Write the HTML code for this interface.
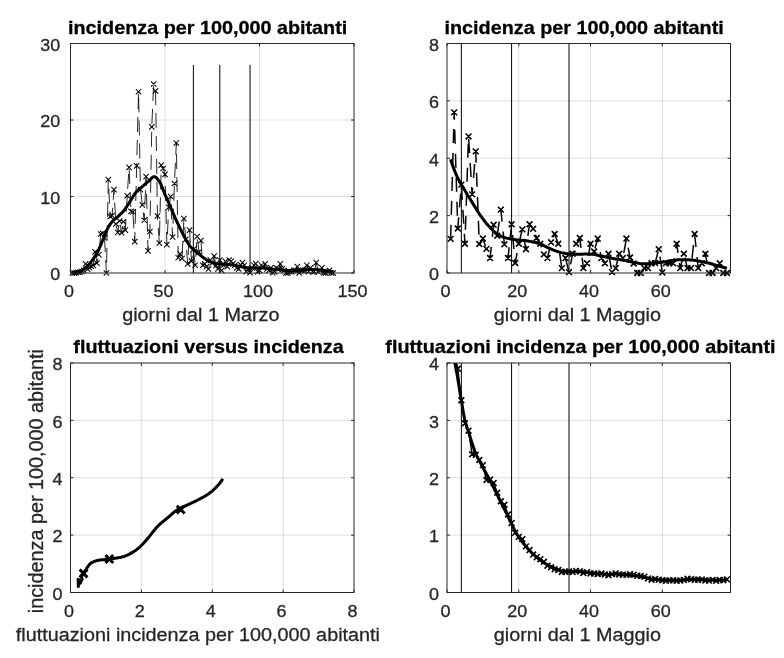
<!DOCTYPE html>
<html lang="it"><head><meta charset="utf-8"><title>incidenza per 100,000 abitanti</title>
<style>html,body{margin:0;padding:0;background:#fff}svg{display:block}</style></head>
<body>
<svg width="784" height="658" viewBox="0 0 784 658">
<rect width="784" height="658" fill="#fff"/>
<defs><clipPath id="c4"><rect x="447.00" y="363.00" width="283.50" height="229.50"/></clipPath><clipPath id="m2"><rect x="437.00" y="33.50" width="294.00" height="249.50"/></clipPath><clipPath id="m4"><rect x="437.00" y="353.00" width="294.00" height="249.50"/></clipPath></defs>
<style>text{font-family:"Liberation Sans",Arial,Helvetica,sans-serif;fill:#262626}.tk{font-size:18px;stroke:#262626;stroke-width:.3px}.lb{font-size:19.8px;stroke:#262626;stroke-width:.3px}.tt{font-size:19.8px;font-weight:bold;fill:#000;stroke:#000;stroke-width:.3px}</style>
<path d="M165.00 43.50 V273.00M259.50 43.50 V273.00" stroke="#262626" stroke-opacity="0.15" stroke-width="1" fill="none"/>
<path d="M70.50 196.50 H354.00M70.50 120.00 H354.00" stroke="#262626" stroke-opacity="0.15" stroke-width="1" fill="none"/>
<path d="M193.35 273.00 V64.92M219.81 273.00 V64.92M250.05 273.00 V64.92" stroke="#000" stroke-width="1" fill="none"/>
<path d="M72.39 273.00 L74.28 273.00 L76.17 272.62 L78.06 272.24 L79.95 272.24 L81.84 271.47 L83.73 270.32 L85.62 263.82 L87.51 269.18 L89.40 267.64 L91.29 266.12 L93.18 265.35 L95.07 251.81 L96.96 263.06 L98.85 254.64 L100.74 233.99 L102.63 233.22 L104.52 237.81 L106.41 273.00 L108.30 179.67 L110.19 216.39 L112.08 215.62 L113.97 189.62 L115.86 224.04 L117.75 232.45 L119.64 220.98 L121.53 232.76 L123.42 221.75 L125.31 230.16 L127.20 195.74 L129.09 167.43 L130.98 211.42 L132.87 211.80 L134.76 241.63 L136.65 165.90 L138.54 91.70 L140.43 189.62 L142.32 204.91 L144.21 220.22 L146.10 176.61 L147.99 250.81 L149.88 231.69 L151.77 126.88 L153.66 84.04 L155.55 90.93 L157.44 216.01 L159.33 243.16 L161.22 165.13 L163.11 168.50 L165.00 174.31 L166.89 244.69 L168.78 207.21 L170.67 196.50 L172.56 237.04 L174.45 183.50 L176.34 142.95 L178.23 257.70 L180.12 253.88 L182.01 258.46 L183.90 218.69 L185.79 239.34 L187.68 263.90 L189.57 230.16 L191.46 261.14 L193.35 249.44 L195.24 265.20 L197.13 236.59 L199.02 252.04 L200.91 240.56 L202.80 265.27 L204.69 263.82 L206.58 266.57 L208.47 269.02 L210.36 260.15 L212.25 263.06 L214.14 256.09 L216.03 265.35 L217.92 269.02 L219.81 260.00 L221.70 270.32 L223.59 265.20 L225.48 261.37 L227.37 266.65 L229.26 260.00 L231.15 261.22 L233.04 263.67 L234.93 265.20 L236.82 268.03 L238.71 269.02 L240.60 264.81 L242.49 262.60 L244.38 265.20 L246.27 271.70 L248.16 269.02 L250.05 272.77 L251.94 267.87 L253.83 265.20 L255.72 263.67 L257.61 271.70 L259.50 270.40 L261.39 265.20 L263.28 267.26 L265.17 263.82 L267.06 269.02 L268.95 270.40 L270.84 267.87 L272.73 272.77 L274.62 271.70 L276.51 267.87 L278.40 269.02 L280.29 263.82 L282.18 268.87 L284.07 270.48 L285.96 273.00 L287.85 273.00 L289.74 271.70 L291.63 271.70 L293.52 270.40 L295.41 270.32 L297.30 266.65 L299.19 272.85 L301.08 270.40 L302.97 270.40 L304.86 270.40 L306.75 265.20 L308.64 271.70 L310.53 267.87 L312.42 271.70 L314.31 271.70 L316.20 262.60 L318.09 271.70 L319.98 270.40 L321.87 267.87 L323.76 273.00 L325.65 273.00 L327.54 271.70 L329.43 270.40 L331.32 273.00 L333.21 273.00" stroke="#000" stroke-width="0.85" fill="none" stroke-dasharray="15 8" />
<path d="M69.69 270.30 l5.40 5.40 M69.69 275.70 l5.40 -5.40M71.58 270.30 l5.40 5.40 M71.58 275.70 l5.40 -5.40M73.47 269.92 l5.40 5.40 M73.47 275.32 l5.40 -5.40M75.36 269.54 l5.40 5.40 M75.36 274.94 l5.40 -5.40M77.25 269.54 l5.40 5.40 M77.25 274.94 l5.40 -5.40M79.14 268.77 l5.40 5.40 M79.14 274.17 l5.40 -5.40M81.03 267.62 l5.40 5.40 M81.03 273.02 l5.40 -5.40M82.92 261.12 l5.40 5.40 M82.92 266.52 l5.40 -5.40M84.81 266.48 l5.40 5.40 M84.81 271.88 l5.40 -5.40M86.70 264.94 l5.40 5.40 M86.70 270.34 l5.40 -5.40M88.59 263.42 l5.40 5.40 M88.59 268.81 l5.40 -5.40M90.48 262.65 l5.40 5.40 M90.48 268.05 l5.40 -5.40M92.37 249.11 l5.40 5.40 M92.37 254.51 l5.40 -5.40M94.26 260.36 l5.40 5.40 M94.26 265.75 l5.40 -5.40M96.15 251.94 l5.40 5.40 M96.15 257.34 l5.40 -5.40M98.04 231.29 l5.40 5.40 M98.04 236.69 l5.40 -5.40M99.93 230.52 l5.40 5.40 M99.93 235.92 l5.40 -5.40M101.82 235.11 l5.40 5.40 M101.82 240.51 l5.40 -5.40M103.71 270.30 l5.40 5.40 M103.71 275.70 l5.40 -5.40M105.60 176.97 l5.40 5.40 M105.60 182.37 l5.40 -5.40M107.49 213.69 l5.40 5.40 M107.49 219.09 l5.40 -5.40M109.38 212.93 l5.40 5.40 M109.38 218.32 l5.40 -5.40M111.27 186.92 l5.40 5.40 M111.27 192.31 l5.40 -5.40M113.16 221.34 l5.40 5.40 M113.16 226.74 l5.40 -5.40M115.05 229.75 l5.40 5.40 M115.05 235.15 l5.40 -5.40M116.94 218.28 l5.40 5.40 M116.94 223.68 l5.40 -5.40M118.83 230.06 l5.40 5.40 M118.83 235.46 l5.40 -5.40M120.72 219.05 l5.40 5.40 M120.72 224.44 l5.40 -5.40M122.61 227.46 l5.40 5.40 M122.61 232.86 l5.40 -5.40M124.50 193.04 l5.40 5.40 M124.50 198.44 l5.40 -5.40M126.39 164.73 l5.40 5.40 M126.39 170.13 l5.40 -5.40M128.28 208.72 l5.40 5.40 M128.28 214.12 l5.40 -5.40M130.17 209.10 l5.40 5.40 M130.17 214.50 l5.40 -5.40M132.06 238.94 l5.40 5.40 M132.06 244.33 l5.40 -5.40M133.95 163.20 l5.40 5.40 M133.95 168.60 l5.40 -5.40M135.84 89.00 l5.40 5.40 M135.84 94.40 l5.40 -5.40M137.73 186.92 l5.40 5.40 M137.73 192.31 l5.40 -5.40M139.62 202.22 l5.40 5.40 M139.62 207.61 l5.40 -5.40M141.51 217.52 l5.40 5.40 M141.51 222.91 l5.40 -5.40M143.40 173.91 l5.40 5.40 M143.40 179.31 l5.40 -5.40M145.29 248.12 l5.40 5.40 M145.29 253.51 l5.40 -5.40M147.18 228.99 l5.40 5.40 M147.18 234.39 l5.40 -5.40M149.07 124.18 l5.40 5.40 M149.07 129.58 l5.40 -5.40M150.96 81.34 l5.40 5.40 M150.96 86.74 l5.40 -5.40M152.85 88.23 l5.40 5.40 M152.85 93.63 l5.40 -5.40M154.74 213.31 l5.40 5.40 M154.74 218.71 l5.40 -5.40M156.63 240.47 l5.40 5.40 M156.63 245.86 l5.40 -5.40M158.52 162.44 l5.40 5.40 M158.52 167.83 l5.40 -5.40M160.41 165.80 l5.40 5.40 M160.41 171.20 l5.40 -5.40M162.30 171.62 l5.40 5.40 M162.30 177.01 l5.40 -5.40M164.19 242.00 l5.40 5.40 M164.19 247.39 l5.40 -5.40M166.08 204.51 l5.40 5.40 M166.08 209.91 l5.40 -5.40M167.97 193.80 l5.40 5.40 M167.97 199.20 l5.40 -5.40M169.86 234.34 l5.40 5.40 M169.86 239.74 l5.40 -5.40M171.75 180.80 l5.40 5.40 M171.75 186.19 l5.40 -5.40M173.64 140.25 l5.40 5.40 M173.64 145.65 l5.40 -5.40M175.53 255.00 l5.40 5.40 M175.53 260.40 l5.40 -5.40M177.42 251.18 l5.40 5.40 M177.42 256.57 l5.40 -5.40M179.31 255.76 l5.40 5.40 M179.31 261.16 l5.40 -5.40M181.20 215.99 l5.40 5.40 M181.20 221.38 l5.40 -5.40M183.09 236.64 l5.40 5.40 M183.09 242.04 l5.40 -5.40M184.98 261.20 l5.40 5.40 M184.98 266.60 l5.40 -5.40M186.87 227.46 l5.40 5.40 M186.87 232.86 l5.40 -5.40M188.76 258.44 l5.40 5.40 M188.76 263.84 l5.40 -5.40M190.65 246.74 l5.40 5.40 M190.65 252.14 l5.40 -5.40M192.54 262.50 l5.40 5.40 M192.54 267.90 l5.40 -5.40M194.43 233.89 l5.40 5.40 M194.43 239.29 l5.40 -5.40M196.32 249.34 l5.40 5.40 M196.32 254.74 l5.40 -5.40M198.21 237.86 l5.40 5.40 M198.21 243.26 l5.40 -5.40M200.10 262.57 l5.40 5.40 M200.10 267.97 l5.40 -5.40M201.99 261.12 l5.40 5.40 M201.99 266.52 l5.40 -5.40M203.88 263.87 l5.40 5.40 M203.88 269.27 l5.40 -5.40M205.77 266.32 l5.40 5.40 M205.77 271.72 l5.40 -5.40M207.66 257.45 l5.40 5.40 M207.66 262.85 l5.40 -5.40M209.55 260.36 l5.40 5.40 M209.55 265.75 l5.40 -5.40M211.44 253.39 l5.40 5.40 M211.44 258.79 l5.40 -5.40M213.33 262.65 l5.40 5.40 M213.33 268.05 l5.40 -5.40M215.22 266.32 l5.40 5.40 M215.22 271.72 l5.40 -5.40M217.11 257.30 l5.40 5.40 M217.11 262.69 l5.40 -5.40M219.00 267.62 l5.40 5.40 M219.00 273.02 l5.40 -5.40M220.89 262.50 l5.40 5.40 M220.89 267.90 l5.40 -5.40M222.78 258.67 l5.40 5.40 M222.78 264.07 l5.40 -5.40M224.67 263.95 l5.40 5.40 M224.67 269.35 l5.40 -5.40M226.56 257.30 l5.40 5.40 M226.56 262.69 l5.40 -5.40M228.45 258.52 l5.40 5.40 M228.45 263.92 l5.40 -5.40M230.34 260.97 l5.40 5.40 M230.34 266.37 l5.40 -5.40M232.23 262.50 l5.40 5.40 M232.23 267.90 l5.40 -5.40M234.12 265.33 l5.40 5.40 M234.12 270.73 l5.40 -5.40M236.01 266.32 l5.40 5.40 M236.01 271.72 l5.40 -5.40M237.90 262.11 l5.40 5.40 M237.90 267.51 l5.40 -5.40M239.79 259.90 l5.40 5.40 M239.79 265.30 l5.40 -5.40M241.68 262.50 l5.40 5.40 M241.68 267.90 l5.40 -5.40M243.57 269.00 l5.40 5.40 M243.57 274.40 l5.40 -5.40M245.46 266.32 l5.40 5.40 M245.46 271.72 l5.40 -5.40M247.35 270.07 l5.40 5.40 M247.35 275.47 l5.40 -5.40M249.24 265.17 l5.40 5.40 M249.24 270.57 l5.40 -5.40M251.13 262.50 l5.40 5.40 M251.13 267.90 l5.40 -5.40M253.02 260.97 l5.40 5.40 M253.02 266.37 l5.40 -5.40M254.91 269.00 l5.40 5.40 M254.91 274.40 l5.40 -5.40M256.80 267.70 l5.40 5.40 M256.80 273.10 l5.40 -5.40M258.69 262.50 l5.40 5.40 M258.69 267.90 l5.40 -5.40M260.58 264.56 l5.40 5.40 M260.58 269.96 l5.40 -5.40M262.47 261.12 l5.40 5.40 M262.47 266.52 l5.40 -5.40M264.36 266.32 l5.40 5.40 M264.36 271.72 l5.40 -5.40M266.25 267.70 l5.40 5.40 M266.25 273.10 l5.40 -5.40M268.14 265.17 l5.40 5.40 M268.14 270.57 l5.40 -5.40M270.03 270.07 l5.40 5.40 M270.03 275.47 l5.40 -5.40M271.92 269.00 l5.40 5.40 M271.92 274.40 l5.40 -5.40M273.81 265.17 l5.40 5.40 M273.81 270.57 l5.40 -5.40M275.70 266.32 l5.40 5.40 M275.70 271.72 l5.40 -5.40M277.59 261.12 l5.40 5.40 M277.59 266.52 l5.40 -5.40M279.48 266.17 l5.40 5.40 M279.48 271.57 l5.40 -5.40M281.37 267.78 l5.40 5.40 M281.37 273.18 l5.40 -5.40M283.26 270.30 l5.40 5.40 M283.26 275.70 l5.40 -5.40M285.15 270.30 l5.40 5.40 M285.15 275.70 l5.40 -5.40M287.04 269.00 l5.40 5.40 M287.04 274.40 l5.40 -5.40M288.93 269.00 l5.40 5.40 M288.93 274.40 l5.40 -5.40M290.82 267.70 l5.40 5.40 M290.82 273.10 l5.40 -5.40M292.71 267.62 l5.40 5.40 M292.71 273.02 l5.40 -5.40M294.60 263.95 l5.40 5.40 M294.60 269.35 l5.40 -5.40M296.49 270.15 l5.40 5.40 M296.49 275.55 l5.40 -5.40M298.38 267.70 l5.40 5.40 M298.38 273.10 l5.40 -5.40M300.27 267.70 l5.40 5.40 M300.27 273.10 l5.40 -5.40M302.16 267.70 l5.40 5.40 M302.16 273.10 l5.40 -5.40M304.05 262.50 l5.40 5.40 M304.05 267.90 l5.40 -5.40M305.94 269.00 l5.40 5.40 M305.94 274.40 l5.40 -5.40M307.83 265.17 l5.40 5.40 M307.83 270.57 l5.40 -5.40M309.72 269.00 l5.40 5.40 M309.72 274.40 l5.40 -5.40M311.61 269.00 l5.40 5.40 M311.61 274.40 l5.40 -5.40M313.50 259.90 l5.40 5.40 M313.50 265.30 l5.40 -5.40M315.39 269.00 l5.40 5.40 M315.39 274.40 l5.40 -5.40M317.28 267.70 l5.40 5.40 M317.28 273.10 l5.40 -5.40M319.17 265.17 l5.40 5.40 M319.17 270.57 l5.40 -5.40M321.06 270.30 l5.40 5.40 M321.06 275.70 l5.40 -5.40M322.95 270.30 l5.40 5.40 M322.95 275.70 l5.40 -5.40M324.84 269.00 l5.40 5.40 M324.84 274.40 l5.40 -5.40M326.73 267.70 l5.40 5.40 M326.73 273.10 l5.40 -5.40M328.62 270.30 l5.40 5.40 M328.62 275.70 l5.40 -5.40M330.51 270.30 l5.40 5.40 M330.51 275.70 l5.40 -5.40" stroke="#000" stroke-width="1.05" fill="none"/>
<path d="M72.39 272.85 L72.91 272.79 L73.44 272.72 L73.96 272.64 L74.48 272.55 L75.00 272.46 L75.53 272.36 L76.05 272.26 L76.57 272.15 L77.09 272.04 L77.62 271.92 L78.14 271.78 L78.66 271.64 L79.18 271.49 L79.71 271.31 L80.23 271.12 L80.75 270.91 L81.28 270.66 L81.80 270.37 L82.32 270.05 L82.84 269.71 L83.37 269.34 L83.89 268.94 L84.41 268.53 L84.93 268.10 L85.46 267.67 L85.98 267.22 L86.50 266.77 L87.03 266.30 L87.55 265.79 L88.07 265.26 L88.59 264.71 L89.12 264.13 L89.64 263.52 L90.16 262.90 L90.68 262.26 L91.21 261.60 L91.73 260.92 L92.25 260.23 L92.77 259.52 L93.30 258.78 L93.82 258.02 L94.34 257.24 L94.87 256.42 L95.39 255.58 L95.91 254.71 L96.43 253.82 L96.96 252.89 L97.48 251.94 L98.00 250.96 L98.52 249.95 L99.05 248.87 L99.57 247.71 L100.09 246.50 L100.62 245.23 L101.14 243.94 L101.66 242.64 L102.18 241.34 L102.71 240.06 L103.23 238.81 L103.75 237.53 L104.27 236.22 L104.80 234.90 L105.32 233.59 L105.84 232.31 L106.36 231.08 L106.89 229.93 L107.41 228.88 L107.93 227.92 L108.46 227.00 L108.98 226.11 L109.50 225.27 L110.02 224.46 L110.55 223.70 L111.07 222.99 L111.59 222.32 L112.11 221.71 L112.64 221.14 L113.16 220.62 L113.68 220.13 L114.20 219.67 L114.73 219.23 L115.25 218.81 L115.77 218.39 L116.30 217.97 L116.82 217.54 L117.34 217.10 L117.86 216.64 L118.39 216.15 L118.91 215.66 L119.43 215.17 L119.95 214.68 L120.48 214.19 L121.00 213.68 L121.52 213.17 L122.05 212.64 L122.57 212.09 L123.09 211.53 L123.61 210.94 L124.14 210.32 L124.66 209.66 L125.18 208.96 L125.70 208.21 L126.23 207.43 L126.75 206.62 L127.27 205.79 L127.79 204.95 L128.32 204.11 L128.84 203.26 L129.36 202.43 L129.89 201.61 L130.41 200.81 L130.93 199.99 L131.45 199.14 L131.98 198.29 L132.50 197.42 L133.02 196.57 L133.54 195.72 L134.07 194.90 L134.59 194.11 L135.11 193.37 L135.63 192.67 L136.16 192.04 L136.68 191.47 L137.20 190.93 L137.73 190.42 L138.25 189.95 L138.77 189.49 L139.29 189.05 L139.82 188.62 L140.34 188.20 L140.86 187.77 L141.38 187.35 L141.91 186.91 L142.43 186.46 L142.95 186.00 L143.48 185.55 L144.00 185.09 L144.52 184.64 L145.04 184.19 L145.57 183.74 L146.09 183.29 L146.61 182.84 L147.13 182.40 L147.66 181.95 L148.18 181.52 L148.70 181.08 L149.22 180.59 L149.75 180.06 L150.27 179.50 L150.79 178.94 L151.32 178.39 L151.84 177.88 L152.36 177.43 L152.88 177.06 L153.41 176.79 L153.93 176.63 L154.45 176.63 L154.97 176.77 L155.50 177.05 L156.02 177.45 L156.54 177.95 L157.07 178.53 L157.59 179.17 L158.11 179.84 L158.63 180.53 L159.16 181.22 L159.68 181.99 L160.20 182.91 L160.72 183.97 L161.25 185.13 L161.77 186.37 L162.29 187.67 L162.81 189.01 L163.34 190.37 L163.86 191.72 L164.38 193.04 L164.91 194.31 L165.43 195.51 L165.95 196.70 L166.47 197.89 L167.00 199.08 L167.52 200.27 L168.04 201.46 L168.56 202.65 L169.09 203.84 L169.61 205.03 L170.13 206.22 L170.65 207.41 L171.18 208.60 L171.70 209.80 L172.22 211.00 L172.75 212.21 L173.27 213.43 L173.79 214.64 L174.31 215.85 L174.84 217.05 L175.36 218.24 L175.88 219.43 L176.40 220.59 L176.93 221.74 L177.45 222.86 L177.97 223.97 L178.50 225.07 L179.02 226.16 L179.54 227.24 L180.06 228.30 L180.59 229.36 L181.11 230.40 L181.63 231.44 L182.15 232.47 L182.68 233.48 L183.20 234.49 L183.72 235.50 L184.24 236.51 L184.77 237.52 L185.29 238.53 L185.81 239.51 L186.34 240.46 L186.86 241.37 L187.38 242.24 L187.90 243.05 L188.43 243.83 L188.95 244.58 L189.47 245.30 L189.99 245.98 L190.52 246.62 L191.04 247.22 L191.56 247.78 L192.08 248.30 L192.61 248.78 L193.13 249.24 L193.65 249.69 L194.18 250.13 L194.70 250.57 L195.22 251.02 L195.74 251.46 L196.27 251.90 L196.79 252.33 L197.31 252.76 L197.83 253.19 L198.36 253.61 L198.88 254.04 L199.40 254.46 L199.93 254.89 L200.45 255.33 L200.97 255.76 L201.49 256.19 L202.02 256.61 L202.54 257.02 L203.06 257.41 L203.58 257.79 L204.11 258.17 L204.63 258.54 L205.15 258.89 L205.67 259.24 L206.20 259.58 L206.72 259.90 L207.24 260.20 L207.77 260.50 L208.29 260.79 L208.81 261.07 L209.33 261.34 L209.86 261.60 L210.38 261.83 L210.90 262.05 L211.42 262.25 L211.95 262.45 L212.47 262.63 L212.99 262.81 L213.52 262.97 L214.04 263.12 L214.56 263.25 L215.08 263.36 L215.61 263.45 L216.13 263.54 L216.65 263.62 L217.17 263.69 L217.70 263.75 L218.22 263.81 L218.74 263.87 L219.26 263.92 L219.79 263.97 L220.31 264.01 L220.83 264.06 L221.36 264.10 L221.88 264.13 L222.40 264.17 L222.92 264.20 L223.45 264.22 L223.97 264.24 L224.49 264.26 L225.01 264.28 L225.54 264.29 L226.06 264.31 L226.58 264.33 L227.10 264.36 L227.63 264.40 L228.15 264.44 L228.67 264.48 L229.20 264.54 L229.72 264.59 L230.24 264.65 L230.76 264.70 L231.29 264.76 L231.81 264.82 L232.33 264.88 L232.85 264.94 L233.38 265.01 L233.90 265.08 L234.42 265.16 L234.95 265.25 L235.47 265.36 L235.99 265.49 L236.51 265.62 L237.04 265.77 L237.56 265.91 L238.08 266.05 L238.60 266.18 L239.13 266.30 L239.65 266.42 L240.17 266.53 L240.69 266.65 L241.22 266.76 L241.74 266.86 L242.26 266.96 L242.79 267.06 L243.31 267.15 L243.83 267.24 L244.35 267.33 L244.88 267.41 L245.40 267.49 L245.92 267.56 L246.44 267.62 L246.97 267.68 L247.49 267.73 L248.01 267.78 L248.53 267.83 L249.06 267.87 L249.58 267.90 L250.10 267.93 L250.63 267.95 L251.15 267.97 L251.67 267.98 L252.19 268.00 L252.72 268.01 L253.24 268.02 L253.76 268.02 L254.28 268.03 L254.81 268.03 L255.33 268.02 L255.85 268.01 L256.38 267.99 L256.90 267.98 L257.42 267.97 L257.94 267.96 L258.47 267.95 L258.99 267.95 L259.51 267.96 L260.03 267.96 L260.56 267.97 L261.08 267.99 L261.60 268.00 L262.12 268.01 L262.65 268.03 L263.17 268.06 L263.69 268.10 L264.22 268.15 L264.74 268.21 L265.26 268.27 L265.78 268.33 L266.31 268.39 L266.83 268.45 L267.35 268.51 L267.87 268.57 L268.40 268.63 L268.92 268.69 L269.44 268.76 L269.97 268.82 L270.49 268.87 L271.01 268.93 L271.53 268.98 L272.06 269.03 L272.58 269.08 L273.10 269.13 L273.62 269.17 L274.15 269.22 L274.67 269.26 L275.19 269.30 L275.71 269.34 L276.24 269.38 L276.76 269.42 L277.28 269.45 L277.81 269.50 L278.33 269.54 L278.85 269.59 L279.37 269.64 L279.90 269.70 L280.42 269.77 L280.94 269.83 L281.46 269.89 L281.99 269.96 L282.51 270.01 L283.03 270.06 L283.55 270.11 L284.08 270.16 L284.60 270.20 L285.12 270.25 L285.65 270.29 L286.17 270.34 L286.69 270.40 L287.21 270.46 L287.74 270.51 L288.26 270.54 L288.78 270.55 L289.30 270.55 L289.83 270.54 L290.35 270.53 L290.87 270.52 L291.40 270.51 L291.92 270.49 L292.44 270.48 L292.96 270.46 L293.49 270.44 L294.01 270.41 L294.53 270.38 L295.05 270.34 L295.58 270.31 L296.10 270.27 L296.62 270.24 L297.14 270.21 L297.67 270.18 L298.19 270.16 L298.71 270.13 L299.24 270.10 L299.76 270.07 L300.28 270.03 L300.80 269.99 L301.33 269.95 L301.85 269.89 L302.37 269.83 L302.89 269.77 L303.42 269.72 L303.94 269.67 L304.46 269.64 L304.98 269.61 L305.51 269.58 L306.03 269.55 L306.55 269.53 L307.08 269.51 L307.60 269.49 L308.12 269.48 L308.64 269.48 L309.17 269.48 L309.69 269.48 L310.21 269.48 L310.73 269.48 L311.26 269.48 L311.78 269.48 L312.30 269.48 L312.83 269.48 L313.35 269.49 L313.87 269.51 L314.39 269.53 L314.92 269.55 L315.44 269.58 L315.96 269.61 L316.48 269.64 L317.01 269.67 L317.53 269.72 L318.05 269.77 L318.57 269.82 L319.10 269.88 L319.62 269.94 L320.14 269.99 L320.67 270.05 L321.19 270.10 L321.71 270.16 L322.23 270.21 L322.76 270.27 L323.28 270.33 L323.80 270.39 L324.32 270.45 L324.85 270.52 L325.37 270.60 L325.89 270.68 L326.42 270.76 L326.94 270.85 L327.46 270.93 L327.98 271.01 L328.51 271.09 L329.03 271.17 L329.55 271.24 L330.07 271.31 L330.60 271.38 L331.12 271.45 L331.64 271.52 L332.16 271.59 L332.69 271.65 L333.21 271.71" stroke="#000" stroke-width="3" fill="none" stroke-linejoin="round"/>
<path d="M70.50 273.00 v-2.90 M70.50 43.50 v2.90M165.00 273.00 v-2.90 M165.00 43.50 v2.90M259.50 273.00 v-2.90 M259.50 43.50 v2.90M354.00 273.00 v-2.90 M354.00 43.50 v2.90M70.50 273.00 h2.90 M354.00 273.00 h-2.90M70.50 196.50 h2.90 M354.00 196.50 h-2.90M70.50 120.00 h2.90 M354.00 120.00 h-2.90M70.50 43.50 h2.90 M354.00 43.50 h-2.90" stroke="#262626" stroke-width="1" fill="none"/><rect x="70.50" y="43.50" width="283.50" height="229.50" fill="none" stroke="#262626" stroke-width="1"/>
<text transform="translate(69.00 297.00) scale(1 0.940)" class="tk" text-anchor="middle">0</text><text transform="translate(163.50 297.00) scale(1 0.940)" class="tk" text-anchor="middle">50</text><text transform="translate(258.00 297.00) scale(1 0.940)" class="tk" text-anchor="middle">100</text><text transform="translate(352.50 297.00) scale(1 0.940)" class="tk" text-anchor="middle">150</text><text transform="translate(60.20 280.30) scale(1 0.940)" class="tk" text-anchor="end">0</text><text transform="translate(60.20 203.80) scale(1 0.940)" class="tk" text-anchor="end">10</text><text transform="translate(60.20 127.30) scale(1 0.940)" class="tk" text-anchor="end">20</text><text transform="translate(60.20 50.80) scale(1 0.940)" class="tk" text-anchor="end">30</text>
<text transform="translate(68.00 33.70) scale(1 0.960)" class="tt">incidenza per 100,000 abitanti</text>
<text transform="translate(122.20 321.30) scale(1 0.940)" class="lb">giorni dal 1 Marzo</text>
<path d="M518.77 43.50 V273.00M590.54 43.50 V273.00M662.32 43.50 V273.00" stroke="#262626" stroke-opacity="0.15" stroke-width="1" fill="none"/>
<path d="M447.00 215.62 H730.50M447.00 158.25 H730.50M447.00 100.88 H730.50" stroke="#262626" stroke-opacity="0.15" stroke-width="1" fill="none"/>
<path d="M461.35 273.00 V43.50M511.59 273.00 V43.50M569.01 273.00 V43.50" stroke="#000" stroke-width="1" fill="none"/>
<g clip-path="url(#m2)">
<path d="M450.59 238.86 L454.18 112.35 L457.77 228.53 L461.35 184.64 L464.94 243.74 L468.53 136.45 L472.12 194.40 L475.71 151.37 L479.30 244.03 L482.89 238.57 L486.47 248.90 L490.06 258.08 L493.65 224.81 L497.24 235.71 L500.83 209.60 L504.42 244.31 L508.01 258.08 L511.59 224.23 L515.18 262.96 L518.77 243.74 L522.36 229.39 L525.95 249.19 L529.54 224.23 L533.13 228.82 L536.72 238.00 L540.30 243.74 L543.89 254.35 L547.48 258.08 L551.07 242.30 L554.66 233.99 L558.25 243.74 L561.84 268.12 L565.42 258.08 L569.01 272.14 L572.60 253.78 L576.19 243.74 L579.78 238.00 L583.37 268.12 L586.96 263.25 L590.54 243.74 L594.13 251.48 L597.72 238.57 L601.31 258.08 L604.90 263.25 L608.49 253.78 L612.08 272.14 L615.66 268.12 L619.25 253.78 L622.84 258.08 L626.43 238.57 L630.02 257.51 L633.61 263.53 L637.20 273.00 L640.78 273.00 L644.37 268.12 L647.96 268.12 L651.55 263.25 L655.14 262.96 L658.73 249.19 L662.32 272.43 L665.91 263.25 L669.49 263.25 L673.08 263.25 L676.67 243.74 L680.26 268.12 L683.85 253.78 L687.44 268.12 L691.03 268.12 L694.61 233.99 L698.20 268.12 L701.79 263.25 L705.38 253.78 L708.97 273.00 L712.56 273.00 L716.15 268.12 L719.73 263.25 L723.32 273.00 L726.91 273.00" stroke="#000" stroke-width="1.5" fill="none" stroke-dasharray="14 10"/>
<path d="M447.69 235.96 l5.80 5.80 M447.69 241.76 l5.80 -5.80M451.28 109.45 l5.80 5.80 M451.28 115.25 l5.80 -5.80M454.87 225.63 l5.80 5.80 M454.87 231.43 l5.80 -5.80M458.45 181.74 l5.80 5.80 M458.45 187.54 l5.80 -5.80M462.04 240.84 l5.80 5.80 M462.04 246.64 l5.80 -5.80M465.63 133.55 l5.80 5.80 M465.63 139.35 l5.80 -5.80M469.22 191.50 l5.80 5.80 M469.22 197.30 l5.80 -5.80M472.81 148.47 l5.80 5.80 M472.81 154.27 l5.80 -5.80M476.40 241.13 l5.80 5.80 M476.40 246.93 l5.80 -5.80M479.99 235.67 l5.80 5.80 M479.99 241.47 l5.80 -5.80M483.57 246.00 l5.80 5.80 M483.57 251.80 l5.80 -5.80M487.16 255.18 l5.80 5.80 M487.16 260.98 l5.80 -5.80M490.75 221.91 l5.80 5.80 M490.75 227.71 l5.80 -5.80M494.34 232.81 l5.80 5.80 M494.34 238.61 l5.80 -5.80M497.93 206.70 l5.80 5.80 M497.93 212.50 l5.80 -5.80M501.52 241.41 l5.80 5.80 M501.52 247.21 l5.80 -5.80M505.11 255.18 l5.80 5.80 M505.11 260.98 l5.80 -5.80M508.69 221.33 l5.80 5.80 M508.69 227.13 l5.80 -5.80M512.28 260.06 l5.80 5.80 M512.28 265.86 l5.80 -5.80M515.87 240.84 l5.80 5.80 M515.87 246.64 l5.80 -5.80M519.46 226.49 l5.80 5.80 M519.46 232.29 l5.80 -5.80M523.05 246.29 l5.80 5.80 M523.05 252.09 l5.80 -5.80M526.64 221.33 l5.80 5.80 M526.64 227.13 l5.80 -5.80M530.23 225.92 l5.80 5.80 M530.23 231.72 l5.80 -5.80M533.82 235.10 l5.80 5.80 M533.82 240.90 l5.80 -5.80M537.40 240.84 l5.80 5.80 M537.40 246.64 l5.80 -5.80M540.99 251.45 l5.80 5.80 M540.99 257.25 l5.80 -5.80M544.58 255.18 l5.80 5.80 M544.58 260.98 l5.80 -5.80M548.17 239.40 l5.80 5.80 M548.17 245.20 l5.80 -5.80M551.76 231.09 l5.80 5.80 M551.76 236.89 l5.80 -5.80M555.35 240.84 l5.80 5.80 M555.35 246.64 l5.80 -5.80M558.94 265.22 l5.80 5.80 M558.94 271.02 l5.80 -5.80M562.52 255.18 l5.80 5.80 M562.52 260.98 l5.80 -5.80M566.11 269.24 l5.80 5.80 M566.11 275.04 l5.80 -5.80M569.70 250.88 l5.80 5.80 M569.70 256.68 l5.80 -5.80M573.29 240.84 l5.80 5.80 M573.29 246.64 l5.80 -5.80M576.88 235.10 l5.80 5.80 M576.88 240.90 l5.80 -5.80M580.47 265.22 l5.80 5.80 M580.47 271.02 l5.80 -5.80M584.06 260.35 l5.80 5.80 M584.06 266.15 l5.80 -5.80M587.64 240.84 l5.80 5.80 M587.64 246.64 l5.80 -5.80M591.23 248.58 l5.80 5.80 M591.23 254.38 l5.80 -5.80M594.82 235.67 l5.80 5.80 M594.82 241.47 l5.80 -5.80M598.41 255.18 l5.80 5.80 M598.41 260.98 l5.80 -5.80M602.00 260.35 l5.80 5.80 M602.00 266.15 l5.80 -5.80M605.59 250.88 l5.80 5.80 M605.59 256.68 l5.80 -5.80M609.18 269.24 l5.80 5.80 M609.18 275.04 l5.80 -5.80M612.76 265.22 l5.80 5.80 M612.76 271.02 l5.80 -5.80M616.35 250.88 l5.80 5.80 M616.35 256.68 l5.80 -5.80M619.94 255.18 l5.80 5.80 M619.94 260.98 l5.80 -5.80M623.53 235.67 l5.80 5.80 M623.53 241.47 l5.80 -5.80M627.12 254.61 l5.80 5.80 M627.12 260.41 l5.80 -5.80M630.71 260.63 l5.80 5.80 M630.71 266.43 l5.80 -5.80M634.30 270.10 l5.80 5.80 M634.30 275.90 l5.80 -5.80M637.88 270.10 l5.80 5.80 M637.88 275.90 l5.80 -5.80M641.47 265.22 l5.80 5.80 M641.47 271.02 l5.80 -5.80M645.06 265.22 l5.80 5.80 M645.06 271.02 l5.80 -5.80M648.65 260.35 l5.80 5.80 M648.65 266.15 l5.80 -5.80M652.24 260.06 l5.80 5.80 M652.24 265.86 l5.80 -5.80M655.83 246.29 l5.80 5.80 M655.83 252.09 l5.80 -5.80M659.42 269.53 l5.80 5.80 M659.42 275.33 l5.80 -5.80M663.01 260.35 l5.80 5.80 M663.01 266.15 l5.80 -5.80M666.59 260.35 l5.80 5.80 M666.59 266.15 l5.80 -5.80M670.18 260.35 l5.80 5.80 M670.18 266.15 l5.80 -5.80M673.77 240.84 l5.80 5.80 M673.77 246.64 l5.80 -5.80M677.36 265.22 l5.80 5.80 M677.36 271.02 l5.80 -5.80M680.95 250.88 l5.80 5.80 M680.95 256.68 l5.80 -5.80M684.54 265.22 l5.80 5.80 M684.54 271.02 l5.80 -5.80M688.13 265.22 l5.80 5.80 M688.13 271.02 l5.80 -5.80M691.71 231.09 l5.80 5.80 M691.71 236.89 l5.80 -5.80M695.30 265.22 l5.80 5.80 M695.30 271.02 l5.80 -5.80M698.89 260.35 l5.80 5.80 M698.89 266.15 l5.80 -5.80M702.48 250.88 l5.80 5.80 M702.48 256.68 l5.80 -5.80M706.07 270.10 l5.80 5.80 M706.07 275.90 l5.80 -5.80M709.66 270.10 l5.80 5.80 M709.66 275.90 l5.80 -5.80M713.25 265.22 l5.80 5.80 M713.25 271.02 l5.80 -5.80M716.83 260.35 l5.80 5.80 M716.83 266.15 l5.80 -5.80M720.42 270.10 l5.80 5.80 M720.42 275.90 l5.80 -5.80M724.01 270.10 l5.80 5.80 M724.01 275.90 l5.80 -5.80" stroke="#000" stroke-width="1.6" fill="none"/>
<path d="M450.59 159.40 L451.51 162.16 L452.44 164.84 L453.36 167.42 L454.29 169.89 L455.21 172.24 L456.13 174.46 L457.06 176.53 L457.98 178.46 L458.91 180.27 L459.83 181.97 L460.75 183.60 L461.68 185.18 L462.60 186.72 L463.53 188.25 L464.45 189.79 L465.38 191.35 L466.30 192.90 L467.22 194.42 L468.15 195.93 L469.07 197.42 L470.00 198.90 L470.92 200.39 L471.84 201.87 L472.77 203.36 L473.69 204.86 L474.62 206.38 L475.54 207.89 L476.46 209.40 L477.39 210.88 L478.31 212.32 L479.24 213.73 L480.16 215.08 L481.09 216.40 L482.01 217.70 L482.93 218.98 L483.86 220.23 L484.78 221.44 L485.71 222.61 L486.63 223.74 L487.55 224.81 L488.48 225.85 L489.40 226.87 L490.33 227.86 L491.25 228.82 L492.18 229.74 L493.10 230.60 L494.02 231.41 L494.95 232.16 L495.87 232.85 L496.80 233.52 L497.72 234.17 L498.64 234.79 L499.57 235.36 L500.49 235.88 L501.42 236.35 L502.34 236.75 L503.27 237.08 L504.19 237.39 L505.11 237.67 L506.04 237.93 L506.96 238.17 L507.89 238.39 L508.81 238.59 L509.73 238.78 L510.66 238.96 L511.58 239.13 L512.51 239.29 L513.43 239.44 L514.36 239.59 L515.28 239.72 L516.20 239.84 L517.13 239.95 L518.05 240.04 L518.98 240.12 L519.90 240.19 L520.82 240.25 L521.75 240.31 L522.67 240.37 L523.60 240.43 L524.52 240.51 L525.45 240.61 L526.37 240.73 L527.29 240.87 L528.22 241.03 L529.14 241.20 L530.07 241.39 L530.99 241.59 L531.91 241.79 L532.84 241.99 L533.76 242.18 L534.69 242.39 L535.61 242.59 L536.54 242.81 L537.46 243.05 L538.38 243.30 L539.31 243.58 L540.23 243.89 L541.16 244.27 L542.08 244.70 L543.00 245.18 L543.93 245.68 L544.85 246.18 L545.78 246.68 L546.70 247.15 L547.63 247.58 L548.55 248.00 L549.47 248.41 L550.40 248.81 L551.32 249.21 L552.25 249.59 L553.17 249.96 L554.09 250.32 L555.02 250.65 L555.94 250.97 L556.87 251.29 L557.79 251.60 L558.71 251.90 L559.64 252.18 L560.56 252.44 L561.49 252.68 L562.41 252.89 L563.34 253.08 L564.26 253.26 L565.18 253.43 L566.11 253.59 L567.03 253.74 L567.96 253.86 L568.88 253.97 L569.80 254.05 L570.73 254.10 L571.65 254.16 L572.58 254.21 L573.50 254.25 L574.43 254.29 L575.35 254.32 L576.27 254.34 L577.20 254.35 L578.12 254.35 L579.05 254.33 L579.97 254.29 L580.89 254.24 L581.82 254.19 L582.74 254.14 L583.67 254.10 L584.59 254.07 L585.52 254.07 L586.44 254.08 L587.36 254.10 L588.29 254.13 L589.21 254.16 L590.14 254.21 L591.06 254.25 L591.98 254.31 L592.91 254.37 L593.83 254.46 L594.76 254.60 L595.68 254.77 L596.61 254.97 L597.53 255.17 L598.45 255.39 L599.38 255.60 L600.30 255.80 L601.23 256.00 L602.15 256.21 L603.07 256.43 L604.00 256.65 L604.92 256.87 L605.85 257.09 L606.77 257.30 L607.70 257.49 L608.62 257.68 L609.54 257.86 L610.47 258.04 L611.39 258.22 L612.32 258.39 L613.24 258.55 L614.16 258.71 L615.09 258.87 L616.01 259.02 L616.94 259.17 L617.86 259.30 L618.79 259.43 L619.71 259.56 L620.63 259.69 L621.56 259.83 L622.48 259.98 L623.41 260.15 L624.33 260.34 L625.25 260.54 L626.18 260.76 L627.10 260.98 L628.03 261.21 L628.95 261.42 L629.87 261.63 L630.80 261.82 L631.72 262.00 L632.65 262.17 L633.57 262.34 L634.50 262.50 L635.42 262.65 L636.34 262.81 L637.27 262.97 L638.19 263.16 L639.12 263.37 L640.04 263.57 L640.96 263.73 L641.89 263.81 L642.81 263.82 L643.74 263.80 L644.66 263.78 L645.59 263.75 L646.51 263.71 L647.43 263.66 L648.36 263.61 L649.28 263.56 L650.21 263.50 L651.13 263.43 L652.05 263.33 L652.98 263.23 L653.90 263.11 L654.83 262.99 L655.75 262.86 L656.68 262.75 L657.60 262.64 L658.52 262.54 L659.45 262.44 L660.37 262.34 L661.30 262.24 L662.22 262.14 L663.14 262.03 L664.07 261.92 L664.99 261.79 L665.92 261.63 L666.84 261.45 L667.77 261.25 L668.69 261.04 L669.61 260.84 L670.54 260.66 L671.46 260.50 L672.39 260.38 L673.31 260.27 L674.23 260.17 L675.16 260.08 L676.08 259.99 L677.01 259.92 L677.93 259.86 L678.86 259.82 L679.78 259.80 L680.70 259.80 L681.63 259.80 L682.55 259.80 L683.48 259.80 L684.40 259.80 L685.32 259.80 L686.25 259.80 L687.17 259.80 L688.10 259.81 L689.02 259.84 L689.95 259.89 L690.87 259.96 L691.79 260.04 L692.72 260.13 L693.64 260.23 L694.57 260.33 L695.49 260.44 L696.41 260.57 L697.34 260.73 L698.26 260.91 L699.19 261.10 L700.11 261.30 L701.04 261.50 L701.96 261.70 L702.88 261.89 L703.81 262.08 L704.73 262.26 L705.66 262.45 L706.58 262.65 L707.50 262.85 L708.43 263.06 L709.35 263.27 L710.28 263.50 L711.20 263.75 L712.12 264.01 L713.05 264.30 L713.97 264.59 L714.90 264.89 L715.82 265.18 L716.75 265.47 L717.67 265.75 L718.59 266.01 L719.52 266.27 L720.44 266.53 L721.37 266.78 L722.29 267.02 L723.21 267.27 L724.14 267.50 L725.06 267.73 L725.99 267.96 L726.91 268.18" stroke="#000" stroke-width="3" fill="none" stroke-linejoin="round"/>
</g>
<path d="M447.00 273.00 v-2.90 M447.00 43.50 v2.90M518.77 273.00 v-2.90 M518.77 43.50 v2.90M590.54 273.00 v-2.90 M590.54 43.50 v2.90M662.32 273.00 v-2.90 M662.32 43.50 v2.90M447.00 273.00 h2.90 M730.50 273.00 h-2.90M447.00 215.62 h2.90 M730.50 215.62 h-2.90M447.00 158.25 h2.90 M730.50 158.25 h-2.90M447.00 100.88 h2.90 M730.50 100.88 h-2.90M447.00 43.50 h2.90 M730.50 43.50 h-2.90" stroke="#262626" stroke-width="1" fill="none"/><rect x="447.00" y="43.50" width="283.50" height="229.50" fill="none" stroke="#262626" stroke-width="1"/>
<text transform="translate(445.50 297.00) scale(1 0.940)" class="tk" text-anchor="middle">0</text><text transform="translate(517.27 297.00) scale(1 0.940)" class="tk" text-anchor="middle">20</text><text transform="translate(589.04 297.00) scale(1 0.940)" class="tk" text-anchor="middle">40</text><text transform="translate(660.82 297.00) scale(1 0.940)" class="tk" text-anchor="middle">60</text><text transform="translate(439.10 280.30) scale(1 0.940)" class="tk" text-anchor="end">0</text><text transform="translate(439.10 222.93) scale(1 0.940)" class="tk" text-anchor="end">2</text><text transform="translate(439.10 165.55) scale(1 0.940)" class="tk" text-anchor="end">4</text><text transform="translate(439.10 108.17) scale(1 0.940)" class="tk" text-anchor="end">6</text><text transform="translate(439.10 50.80) scale(1 0.940)" class="tk" text-anchor="end">8</text>
<text transform="translate(444.50 33.70) scale(1 0.960)" class="tt">incidenza per 100,000 abitanti</text>
<text transform="translate(493.80 321.30) scale(1 0.940)" class="lb">giorni dal 1 Maggio</text>
<path d="M141.38 363.00 V592.50M212.25 363.00 V592.50M283.12 363.00 V592.50" stroke="#262626" stroke-opacity="0.15" stroke-width="1" fill="none"/>
<path d="M70.50 535.12 H354.00M70.50 477.75 H354.00M70.50 420.38 H354.00" stroke="#262626" stroke-opacity="0.15" stroke-width="1" fill="none"/>
<path d="M222.88 478.90 L221.43 480.98 L219.88 483.01 L218.22 484.99 L216.47 486.91 L214.62 488.77 L212.68 490.57 L210.62 492.29 L208.37 493.94 L205.97 495.52 L203.45 497.00 L200.86 498.41 L198.23 499.76 L195.61 501.04 L193.02 502.28 L190.52 503.49 L187.99 504.66 L185.37 505.82 L182.77 506.96 L180.32 508.11 L178.15 509.27 L176.34 510.44 L174.77 511.61 L173.36 512.76 L172.04 513.90 L170.79 515.03 L169.53 516.15 L168.23 517.27 L166.88 518.38 L165.51 519.49 L164.14 520.60 L162.77 521.71 L161.44 522.83 L160.15 523.95 L158.92 525.09 L157.77 526.22 L156.72 527.36 L155.73 528.49 L154.80 529.60 L153.91 530.71 L153.05 531.79 L152.23 532.85 L151.42 533.87 L150.63 534.88 L149.85 535.86 L149.06 536.84 L148.27 537.81 L147.46 538.76 L146.66 539.69 L145.88 540.60 L145.10 541.50 L144.33 542.36 L143.57 543.20 L142.80 544.01 L142.03 544.79 L141.26 545.57 L140.47 546.33 L139.67 547.08 L138.85 547.81 L138.02 548.52 L137.18 549.20 L136.33 549.86 L135.46 550.49 L134.60 551.08 L133.73 551.63 L132.86 552.15 L131.98 552.66 L131.11 553.16 L130.25 553.64 L129.39 554.11 L128.53 554.55 L127.67 554.97 L126.82 555.36 L125.96 555.71 L125.11 556.04 L124.25 556.32 L123.39 556.57 L122.53 556.80 L121.67 557.02 L120.81 557.23 L119.94 557.42 L119.06 557.60 L118.18 557.77 L117.29 557.93 L116.40 558.08 L115.51 558.22 L114.62 558.36 L113.73 558.49 L112.85 558.62 L111.98 558.74 L111.12 558.86 L110.28 558.97 L109.43 559.08 L108.63 559.18 L107.87 559.27 L107.13 559.36 L106.41 559.44 L105.70 559.52 L105.02 559.58 L104.35 559.64 L103.71 559.69 L103.09 559.73 L102.49 559.78 L101.94 559.82 L101.41 559.86 L100.89 559.91 L100.36 559.97 L99.84 560.03 L99.33 560.10 L98.82 560.19 L98.32 560.28 L97.82 560.39 L97.34 560.52 L96.87 560.65 L96.41 560.78 L95.97 560.93 L95.54 561.07 L95.12 561.22 L94.71 561.37 L94.31 561.52 L93.92 561.67 L93.54 561.82 L93.16 561.97 L92.80 562.13 L92.44 562.30 L92.08 562.47 L91.73 562.65 L91.39 562.85 L91.05 563.06 L90.72 563.28 L90.39 563.54 L90.06 563.84 L89.74 564.16 L89.43 564.52 L89.13 564.88 L88.84 565.26 L88.56 565.64 L88.30 566.01 L88.05 566.38 L87.81 566.72 L87.58 567.05 L87.36 567.36 L87.14 567.67 L86.94 567.97 L86.73 568.28 L86.53 568.58 L86.34 568.87 L86.15 569.15 L85.95 569.43 L85.76 569.70 L85.56 569.95 L85.36 570.20 L85.15 570.44 L84.95 570.68 L84.76 570.92 L84.58 571.15 L84.41 571.37 L84.25 571.59 L84.11 571.79 L84.00 571.98 L83.90 572.16 L83.81 572.32 L83.72 572.46 L83.63 572.60 L83.55 572.74 L83.48 572.87 L83.41 573.00 L83.35 573.11 L83.31 573.22 L83.28 573.32 L83.26 573.41 L83.26 573.48 L83.27 573.54 L83.30 573.58 L83.33 573.63 L83.36 573.67 L83.40 573.70 L83.44 573.74 L83.48 573.77 L83.51 573.79 L83.53 573.82 L83.54 573.83 L83.54 573.85 L83.53 573.85 L83.52 573.85 L83.50 573.84 L83.47 573.81 L83.44 573.78 L83.41 573.74 L83.38 573.70 L83.34 573.67 L83.30 573.63 L83.27 573.60 L83.23 573.58 L83.18 573.57 L83.12 573.57 L83.05 573.58 L82.98 573.59 L82.90 573.61 L82.83 573.63 L82.76 573.66 L82.69 573.69 L82.62 573.72 L82.57 573.76 L82.52 573.80 L82.48 573.84 L82.44 573.90 L82.40 573.98 L82.36 574.08 L82.32 574.20 L82.29 574.34 L82.25 574.49 L82.22 574.65 L82.18 574.81 L82.14 574.97 L82.10 575.13 L82.06 575.28 L82.00 575.42 L81.95 575.58 L81.89 575.74 L81.84 575.90 L81.79 576.06 L81.74 576.23 L81.70 576.40 L81.68 576.56 L81.66 576.72 L81.66 576.87 L81.67 577.01 L81.68 577.15 L81.70 577.29 L81.72 577.43 L81.74 577.56 L81.76 577.69 L81.78 577.82 L81.80 577.94 L81.82 578.07 L81.84 578.19 L81.85 578.31 L81.86 578.43 L81.87 578.54 L81.89 578.64 L81.90 578.75 L81.91 578.85 L81.92 578.94 L81.93 579.04 L81.94 579.14 L81.94 579.24 L81.95 579.35 L81.94 579.46 L81.92 579.58 L81.88 579.71 L81.81 579.85 L81.73 580.01 L81.64 580.17 L81.54 580.33 L81.44 580.50 L81.34 580.67 L81.25 580.84 L81.17 581.00 L81.11 581.15 L81.05 581.29 L80.99 581.43 L80.94 581.56 L80.89 581.69 L80.84 581.81 L80.79 581.93 L80.75 582.05 L80.70 582.17 L80.64 582.29 L80.59 582.40 L80.53 582.53 L80.46 582.68 L80.40 582.83 L80.32 582.99 L80.25 583.13 L80.17 583.24 L80.10 583.30 L80.02 583.32 L79.94 583.31 L79.86 583.30 L79.78 583.28 L79.70 583.26 L79.62 583.23 L79.54 583.20 L79.45 583.17 L79.36 583.13 L79.27 583.10 L79.19 583.06 L79.10 583.02 L79.02 582.96 L78.95 582.90 L78.87 582.83 L78.81 582.75 L78.75 582.66 L78.69 582.57 L78.63 582.48 L78.57 582.39 L78.52 582.30 L78.46 582.21 L78.42 582.13 L78.37 582.06 L78.34 581.98 L78.31 581.91 L78.29 581.84 L78.27 581.76 L78.25 581.69 L78.24 581.61 L78.23 581.53 L78.22 581.44 L78.21 581.35 L78.20 581.24 L78.19 581.12 L78.18 580.99 L78.17 580.84 L78.15 580.69 L78.14 580.53 L78.13 580.38 L78.12 580.24 L78.10 580.10 L78.09 579.99 L78.08 579.90 L78.07 579.82 L78.06 579.74 L78.05 579.67 L78.05 579.60 L78.05 579.53 L78.05 579.47 L78.06 579.42 L78.08 579.37 L78.11 579.34 L78.13 579.31 L78.16 579.30 L78.19 579.30 L78.22 579.30 L78.25 579.30 L78.28 579.30 L78.30 579.30 L78.32 579.30 L78.35 579.30 L78.37 579.30 L78.40 579.30 L78.42 579.30 L78.44 579.30 L78.47 579.31 L78.49 579.33 L78.51 579.37 L78.53 579.41 L78.55 579.46 L78.57 579.52 L78.59 579.59 L78.61 579.66 L78.63 579.74 L78.65 579.81 L78.67 579.89 L78.69 579.97 L78.70 580.08 L78.71 580.19 L78.72 580.32 L78.72 580.46 L78.71 580.60 L78.69 580.75 L78.65 580.90 L78.59 581.05 L78.54 581.20 L78.48 581.35 L78.42 581.49 L78.37 581.63 L78.33 581.77 L78.31 581.91 L78.30 582.05 L78.30 582.20 L78.30 582.35 L78.30 582.51 L78.30 582.67 L78.30 582.83 L78.30 583.00 L78.30 583.19 L78.30 583.38 L78.30 583.59 L78.30 583.80 L78.30 584.02 L78.30 584.24 L78.30 584.46 L78.30 584.69 L78.30 584.90 L78.30 585.12 L78.30 585.32 L78.30 585.52 L78.30 585.71 L78.30 585.90 L78.30 586.09 L78.30 586.28 L78.30 586.46 L78.30 586.65 L78.30 586.83 L78.30 587.00 L78.30 587.18 L78.30 587.35 L78.30 587.52 L78.30 587.68" stroke="#000" stroke-width="3" fill="none" stroke-linejoin="round"/>
<path d="M176.81 505.69 l7.80 7.80 M176.81 513.49 l7.80 -7.80M105.47 555.18 l7.80 7.80 M105.47 562.98 l7.80 -7.80M79.61 569.52 l7.80 7.80 M79.61 577.32 l7.80 -7.80" stroke="#000" stroke-width="3" fill="none"/>
<path d="M70.50 592.50 v-2.90 M70.50 363.00 v2.90M141.38 592.50 v-2.90 M141.38 363.00 v2.90M212.25 592.50 v-2.90 M212.25 363.00 v2.90M283.12 592.50 v-2.90 M283.12 363.00 v2.90M354.00 592.50 v-2.90 M354.00 363.00 v2.90M70.50 592.50 h2.90 M354.00 592.50 h-2.90M70.50 535.12 h2.90 M354.00 535.12 h-2.90M70.50 477.75 h2.90 M354.00 477.75 h-2.90M70.50 420.38 h2.90 M354.00 420.38 h-2.90M70.50 363.00 h2.90 M354.00 363.00 h-2.90" stroke="#262626" stroke-width="1" fill="none"/><rect x="70.50" y="363.00" width="283.50" height="229.50" fill="none" stroke="#262626" stroke-width="1"/>
<text transform="translate(69.00 616.50) scale(1 0.940)" class="tk" text-anchor="middle">0</text><text transform="translate(139.88 616.50) scale(1 0.940)" class="tk" text-anchor="middle">2</text><text transform="translate(210.75 616.50) scale(1 0.940)" class="tk" text-anchor="middle">4</text><text transform="translate(281.62 616.50) scale(1 0.940)" class="tk" text-anchor="middle">6</text><text transform="translate(352.50 616.50) scale(1 0.940)" class="tk" text-anchor="middle">8</text><text transform="translate(62.60 599.80) scale(1 0.940)" class="tk" text-anchor="end">0</text><text transform="translate(62.60 542.42) scale(1 0.940)" class="tk" text-anchor="end">2</text><text transform="translate(62.60 485.05) scale(1 0.940)" class="tk" text-anchor="end">4</text><text transform="translate(62.60 427.68) scale(1 0.940)" class="tk" text-anchor="end">6</text><text transform="translate(62.60 370.30) scale(1 0.940)" class="tk" text-anchor="end">8</text>
<text transform="translate(73.30 353.20) scale(1 0.960)" class="tt">fluttuazioni versus incidenza</text>
<text transform="translate(15.80 640.80) scale(1 0.940)" class="lb">fluttuazioni incidenza per 100,000 abitanti</text>
<text transform="translate(42.70 613.20) rotate(-90) scale(1 0.975)" class="lb">incidenza per 100,000 abitanti</text>
<path d="M518.77 363.00 V592.50M590.54 363.00 V592.50M662.32 363.00 V592.50" stroke="#262626" stroke-opacity="0.15" stroke-width="1" fill="none"/>
<path d="M447.00 535.12 H730.50M447.00 477.75 H730.50M447.00 420.38 H730.50" stroke="#262626" stroke-opacity="0.15" stroke-width="1" fill="none"/>
<path d="M461.35 592.50 V363.00M511.59 592.50 V363.00M569.01 592.50 V363.00" stroke="#000" stroke-width="1" fill="none"/>
<g clip-path="url(#c4)">
<path d="M450.59 334.31 L454.18 351.52 L457.77 368.74 L461.35 400.29 L464.94 423.24 L468.53 430.70 L472.12 454.23 L475.71 454.80 L479.30 459.96 L482.89 465.13 L486.47 480.05 L490.06 479.47 L493.65 482.91 L497.24 492.67 L500.83 501.27 L504.42 504.72 L508.01 514.47 L511.59 523.08 L515.18 532.83 L518.77 536.85 L522.36 539.14 L525.95 546.39 L529.54 550.07 L533.13 554.55 L536.72 557.17 L540.30 559.16 L543.89 561.77 L547.48 565.67 L551.07 567.24 L554.66 569.24 L558.25 569.97 L561.84 571.97 L565.42 571.68 L569.01 571.50 L572.60 572.11 L576.19 570.98 L579.78 571.31 L583.37 572.91 L586.96 572.15 L590.54 573.43 L594.13 573.45 L597.72 574.05 L601.31 573.49 L604.90 574.49 L608.49 575.18 L612.08 574.12 L615.66 573.45 L619.25 574.45 L622.84 574.63 L626.43 574.87 L630.02 574.34 L633.61 574.68 L637.20 575.82 L640.78 575.87 L644.37 576.66 L647.96 578.43 L651.55 579.78 L655.14 579.02 L658.73 579.65 L662.32 580.28 L665.91 580.69 L669.49 580.36 L673.08 580.32 L676.67 580.79 L680.26 580.54 L683.85 579.94 L687.44 578.81 L691.03 579.26 L694.61 579.79 L698.20 579.70 L701.79 579.56 L705.38 580.54 L708.97 580.56 L712.56 579.85 L716.15 580.82 L719.73 579.92 L723.32 580.19 L726.91 579.40" stroke="#000" stroke-width="1.5" fill="none"/>
</g>
<g clip-path="url(#m4)">
<path d="M454.87 365.84 l5.80 5.80 M454.87 371.64 l5.80 -5.80M458.45 397.39 l5.80 5.80 M458.45 403.19 l5.80 -5.80M462.04 420.34 l5.80 5.80 M462.04 426.14 l5.80 -5.80M465.63 427.80 l5.80 5.80 M465.63 433.60 l5.80 -5.80M469.22 451.33 l5.80 5.80 M469.22 457.13 l5.80 -5.80M472.81 451.90 l5.80 5.80 M472.81 457.70 l5.80 -5.80M476.40 457.06 l5.80 5.80 M476.40 462.86 l5.80 -5.80M479.99 462.23 l5.80 5.80 M479.99 468.03 l5.80 -5.80M483.57 477.15 l5.80 5.80 M483.57 482.94 l5.80 -5.80M487.16 476.57 l5.80 5.80 M487.16 482.37 l5.80 -5.80M490.75 480.01 l5.80 5.80 M490.75 485.81 l5.80 -5.80M494.34 489.77 l5.80 5.80 M494.34 495.57 l5.80 -5.80M497.93 498.37 l5.80 5.80 M497.93 504.17 l5.80 -5.80M501.52 501.82 l5.80 5.80 M501.52 507.62 l5.80 -5.80M505.11 511.57 l5.80 5.80 M505.11 517.37 l5.80 -5.80M508.69 520.18 l5.80 5.80 M508.69 525.98 l5.80 -5.80M512.28 529.93 l5.80 5.80 M512.28 535.73 l5.80 -5.80M515.87 533.95 l5.80 5.80 M515.87 539.75 l5.80 -5.80M519.46 536.24 l5.80 5.80 M519.46 542.04 l5.80 -5.80M523.05 543.49 l5.80 5.80 M523.05 549.29 l5.80 -5.80M526.64 547.17 l5.80 5.80 M526.64 552.97 l5.80 -5.80M530.23 551.65 l5.80 5.80 M530.23 557.45 l5.80 -5.80M533.82 554.27 l5.80 5.80 M533.82 560.07 l5.80 -5.80M537.40 556.26 l5.80 5.80 M537.40 562.06 l5.80 -5.80M540.99 558.87 l5.80 5.80 M540.99 564.67 l5.80 -5.80M544.58 562.77 l5.80 5.80 M544.58 568.57 l5.80 -5.80M548.17 564.34 l5.80 5.80 M548.17 570.14 l5.80 -5.80M551.76 566.34 l5.80 5.80 M551.76 572.14 l5.80 -5.80M555.35 567.07 l5.80 5.80 M555.35 572.87 l5.80 -5.80M558.94 569.07 l5.80 5.80 M558.94 574.87 l5.80 -5.80M562.52 568.78 l5.80 5.80 M562.52 574.58 l5.80 -5.80M566.11 568.60 l5.80 5.80 M566.11 574.40 l5.80 -5.80M569.70 569.21 l5.80 5.80 M569.70 575.01 l5.80 -5.80M573.29 568.08 l5.80 5.80 M573.29 573.88 l5.80 -5.80M576.88 568.41 l5.80 5.80 M576.88 574.21 l5.80 -5.80M580.47 570.01 l5.80 5.80 M580.47 575.81 l5.80 -5.80M584.06 569.25 l5.80 5.80 M584.06 575.05 l5.80 -5.80M587.64 570.53 l5.80 5.80 M587.64 576.33 l5.80 -5.80M591.23 570.55 l5.80 5.80 M591.23 576.35 l5.80 -5.80M594.82 571.15 l5.80 5.80 M594.82 576.95 l5.80 -5.80M598.41 570.59 l5.80 5.80 M598.41 576.39 l5.80 -5.80M602.00 571.59 l5.80 5.80 M602.00 577.39 l5.80 -5.80M605.59 572.28 l5.80 5.80 M605.59 578.08 l5.80 -5.80M609.18 571.22 l5.80 5.80 M609.18 577.02 l5.80 -5.80M612.76 570.55 l5.80 5.80 M612.76 576.35 l5.80 -5.80M616.35 571.55 l5.80 5.80 M616.35 577.35 l5.80 -5.80M619.94 571.73 l5.80 5.80 M619.94 577.53 l5.80 -5.80M623.53 571.97 l5.80 5.80 M623.53 577.77 l5.80 -5.80M627.12 571.44 l5.80 5.80 M627.12 577.24 l5.80 -5.80M630.71 571.78 l5.80 5.80 M630.71 577.58 l5.80 -5.80M634.30 572.92 l5.80 5.80 M634.30 578.72 l5.80 -5.80M637.88 572.97 l5.80 5.80 M637.88 578.77 l5.80 -5.80M641.47 573.76 l5.80 5.80 M641.47 579.56 l5.80 -5.80M645.06 575.53 l5.80 5.80 M645.06 581.33 l5.80 -5.80M648.65 576.88 l5.80 5.80 M648.65 582.68 l5.80 -5.80M652.24 576.12 l5.80 5.80 M652.24 581.92 l5.80 -5.80M655.83 576.75 l5.80 5.80 M655.83 582.55 l5.80 -5.80M659.42 577.38 l5.80 5.80 M659.42 583.18 l5.80 -5.80M663.01 577.79 l5.80 5.80 M663.01 583.59 l5.80 -5.80M666.59 577.46 l5.80 5.80 M666.59 583.26 l5.80 -5.80M670.18 577.42 l5.80 5.80 M670.18 583.22 l5.80 -5.80M673.77 577.89 l5.80 5.80 M673.77 583.69 l5.80 -5.80M677.36 577.64 l5.80 5.80 M677.36 583.44 l5.80 -5.80M680.95 577.04 l5.80 5.80 M680.95 582.84 l5.80 -5.80M684.54 575.91 l5.80 5.80 M684.54 581.71 l5.80 -5.80M688.13 576.36 l5.80 5.80 M688.13 582.16 l5.80 -5.80M691.71 576.89 l5.80 5.80 M691.71 582.69 l5.80 -5.80M695.30 576.80 l5.80 5.80 M695.30 582.60 l5.80 -5.80M698.89 576.66 l5.80 5.80 M698.89 582.46 l5.80 -5.80M702.48 577.64 l5.80 5.80 M702.48 583.44 l5.80 -5.80M706.07 577.66 l5.80 5.80 M706.07 583.46 l5.80 -5.80M709.66 576.95 l5.80 5.80 M709.66 582.75 l5.80 -5.80M713.25 577.92 l5.80 5.80 M713.25 583.72 l5.80 -5.80M716.83 577.02 l5.80 5.80 M716.83 582.82 l5.80 -5.80M720.42 577.29 l5.80 5.80 M720.42 583.09 l5.80 -5.80M724.01 576.50 l5.80 5.80 M724.01 582.30 l5.80 -5.80" stroke="#000" stroke-width="1.6" fill="none"/>
</g>
<g clip-path="url(#c4)">
<path d="M450.59 345.79 L451.51 348.95 L452.44 352.42 L453.36 356.18 L454.29 360.20 L455.21 364.51 L456.13 369.31 L457.06 374.55 L457.98 380.08 L458.91 385.74 L459.83 391.40 L460.75 396.90 L461.68 402.33 L462.60 408.00 L463.53 413.48 L464.45 418.27 L465.38 422.06 L466.30 425.27 L467.22 428.14 L468.15 430.85 L469.07 433.60 L470.00 436.50 L470.92 439.47 L471.84 442.43 L472.77 445.32 L473.69 448.08 L474.62 450.65 L475.54 452.96 L476.46 455.07 L477.39 457.04 L478.31 458.89 L479.24 460.67 L480.16 462.39 L481.09 464.08 L482.01 465.78 L482.93 467.51 L483.86 469.24 L484.78 470.93 L485.71 472.60 L486.63 474.25 L487.55 475.91 L488.48 477.58 L489.40 479.27 L490.33 481.01 L491.25 482.79 L492.18 484.61 L493.10 486.46 L494.02 488.33 L494.95 490.21 L495.87 492.09 L496.80 493.97 L497.72 495.84 L498.64 497.70 L499.57 499.55 L500.49 501.40 L501.42 503.25 L502.34 505.10 L503.27 506.95 L504.19 508.81 L505.11 510.68 L506.04 512.55 L506.96 514.45 L507.89 516.36 L508.81 518.29 L509.73 520.21 L510.66 522.13 L511.58 524.03 L512.51 525.91 L513.43 527.75 L514.36 529.57 L515.28 531.28 L516.20 532.89 L517.13 534.45 L518.05 535.97 L518.98 537.42 L519.90 538.82 L520.82 540.15 L521.75 541.38 L522.67 542.53 L523.60 543.66 L524.52 544.78 L525.45 545.90 L526.37 547.00 L527.29 548.07 L528.22 549.12 L529.14 550.13 L530.07 551.10 L530.99 552.03 L531.91 552.93 L532.84 553.80 L533.76 554.64 L534.69 555.47 L535.61 556.27 L536.54 557.05 L537.46 557.81 L538.38 558.55 L539.31 559.28 L540.23 560.01 L541.16 560.72 L542.08 561.40 L543.00 562.07 L543.93 562.70 L544.85 563.30 L545.78 563.87 L546.70 564.39 L547.63 564.89 L548.55 565.36 L549.47 565.82 L550.40 566.26 L551.32 566.68 L552.25 567.10 L553.17 567.52 L554.09 567.94 L555.02 568.38 L555.94 568.82 L556.87 569.25 L557.79 569.65 L558.71 570.02 L559.64 570.34 L560.56 570.61 L561.49 570.82 L562.41 571.02 L563.34 571.21 L564.26 571.39 L565.18 571.54 L566.11 571.68 L567.03 571.77 L567.96 571.83 L568.88 571.84 L569.80 571.82 L570.73 571.76 L571.65 571.68 L572.58 571.60 L573.50 571.52 L574.43 571.45 L575.35 571.40 L576.27 571.39 L577.20 571.40 L578.12 571.43 L579.05 571.48 L579.97 571.54 L580.89 571.60 L581.82 571.68 L582.74 571.76 L583.67 571.84 L584.59 571.93 L585.52 572.06 L586.44 572.20 L587.36 572.36 L588.29 572.52 L589.21 572.67 L590.14 572.82 L591.06 572.95 L591.98 573.05 L592.91 573.14 L593.83 573.23 L594.76 573.31 L595.68 573.39 L596.61 573.46 L597.53 573.54 L598.45 573.62 L599.38 573.70 L600.30 573.80 L601.23 573.92 L602.15 574.04 L603.07 574.16 L604.00 574.27 L604.92 574.35 L605.85 574.41 L606.77 574.43 L607.70 574.42 L608.62 574.39 L609.54 574.35 L610.47 574.31 L611.39 574.26 L612.32 574.22 L613.24 574.17 L614.16 574.14 L615.09 574.12 L616.01 574.09 L616.94 574.06 L617.86 574.03 L618.79 574.01 L619.71 573.99 L620.63 573.98 L621.56 573.97 L622.48 573.97 L623.41 574.04 L624.33 574.17 L625.25 574.35 L626.18 574.56 L627.10 574.77 L628.03 574.98 L628.95 575.17 L629.87 575.32 L630.80 575.44 L631.72 575.56 L632.65 575.67 L633.57 575.77 L634.50 575.88 L635.42 575.98 L636.34 576.10 L637.27 576.22 L638.19 576.36 L639.12 576.50 L640.04 576.66 L640.96 576.82 L641.89 576.99 L642.81 577.16 L643.74 577.33 L644.66 577.50 L645.59 577.67 L646.51 577.86 L647.43 578.04 L648.36 578.23 L649.28 578.42 L650.21 578.60 L651.13 578.78 L652.05 578.93 L652.98 579.07 L653.90 579.20 L654.83 579.33 L655.75 579.46 L656.68 579.57 L657.60 579.68 L658.52 579.77 L659.45 579.84 L660.37 579.89 L661.30 579.93 L662.22 579.96 L663.14 579.99 L664.07 580.01 L664.99 580.03 L665.92 580.06 L666.84 580.08 L667.77 580.10 L668.69 580.12 L669.61 580.15 L670.54 580.18 L671.46 580.21 L672.39 580.23 L673.31 580.25 L674.23 580.27 L675.16 580.28 L676.08 580.28 L677.01 580.25 L677.93 580.21 L678.86 580.16 L679.78 580.10 L680.70 580.04 L681.63 579.97 L682.55 579.91 L683.48 579.86 L684.40 579.81 L685.32 579.76 L686.25 579.70 L687.17 579.65 L688.10 579.60 L689.02 579.55 L689.95 579.51 L690.87 579.47 L691.79 579.42 L692.72 579.38 L693.64 579.33 L694.57 579.29 L695.49 579.25 L696.41 579.22 L697.34 579.20 L698.26 579.19 L699.19 579.20 L700.11 579.26 L701.04 579.36 L701.96 579.48 L702.88 579.61 L703.81 579.73 L704.73 579.82 L705.66 579.87 L706.58 579.88 L707.50 579.88 L708.43 579.88 L709.35 579.88 L710.28 579.88 L711.20 579.88 L712.12 579.88 L713.05 579.88 L713.97 579.88 L714.90 579.88 L715.82 579.88 L716.75 579.88 L717.67 579.88 L718.59 579.88 L719.52 579.88 L720.44 579.88 L721.37 579.88 L722.29 579.88 L723.21 579.88 L724.14 579.88 L725.06 579.88 L725.99 579.88 L726.91 579.88" stroke="#000" stroke-width="3" fill="none" stroke-linejoin="round"/>
</g>
<path d="M447.00 592.50 v-2.90 M447.00 363.00 v2.90M518.77 592.50 v-2.90 M518.77 363.00 v2.90M590.54 592.50 v-2.90 M590.54 363.00 v2.90M662.32 592.50 v-2.90 M662.32 363.00 v2.90M447.00 592.50 h2.90 M730.50 592.50 h-2.90M447.00 535.12 h2.90 M730.50 535.12 h-2.90M447.00 477.75 h2.90 M730.50 477.75 h-2.90M447.00 420.38 h2.90 M730.50 420.38 h-2.90M447.00 363.00 h2.90 M730.50 363.00 h-2.90" stroke="#262626" stroke-width="1" fill="none"/><rect x="447.00" y="363.00" width="283.50" height="229.50" fill="none" stroke="#262626" stroke-width="1"/>
<text transform="translate(445.50 616.50) scale(1 0.940)" class="tk" text-anchor="middle">0</text><text transform="translate(517.27 616.50) scale(1 0.940)" class="tk" text-anchor="middle">20</text><text transform="translate(589.04 616.50) scale(1 0.940)" class="tk" text-anchor="middle">40</text><text transform="translate(660.82 616.50) scale(1 0.940)" class="tk" text-anchor="middle">60</text><text transform="translate(439.10 599.80) scale(1 0.940)" class="tk" text-anchor="end">0</text><text transform="translate(439.10 542.42) scale(1 0.940)" class="tk" text-anchor="end">1</text><text transform="translate(439.10 485.05) scale(1 0.940)" class="tk" text-anchor="end">2</text><text transform="translate(439.10 427.68) scale(1 0.940)" class="tk" text-anchor="end">3</text><text transform="translate(439.10 370.30) scale(1 0.940)" class="tk" text-anchor="end">4</text>
<text transform="translate(385.30 353.20) scale(1 0.960)" class="tt">fluttuazioni incidenza per 100,000 abitanti</text>
<text transform="translate(493.80 640.80) scale(1 0.940)" class="lb">giorni dal 1 Maggio</text>
</svg>
</body></html>
